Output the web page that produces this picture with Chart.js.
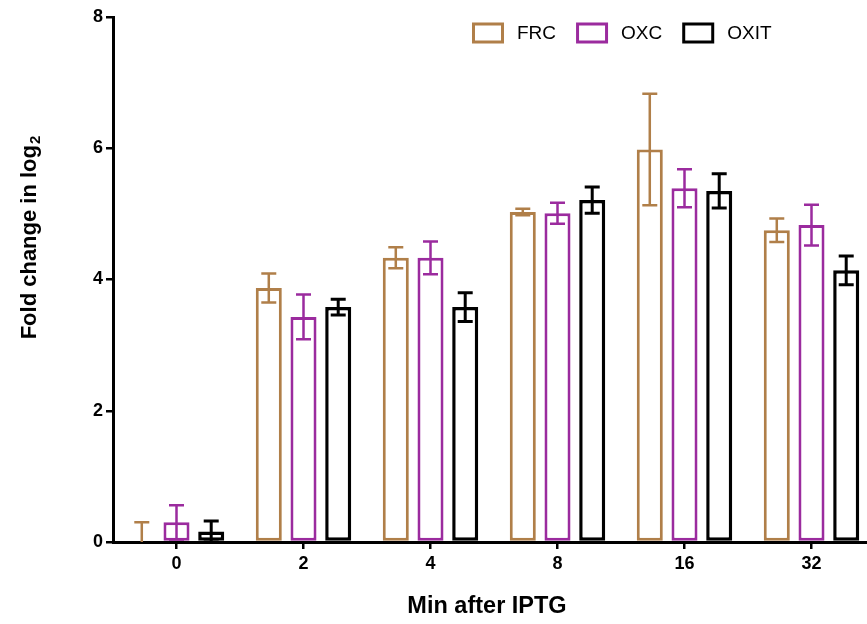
<!DOCTYPE html>
<html>
<head>
<meta charset="utf-8">
<script src="https://cdn.jsdelivr.net/npm/chart.js@4.4.1/dist/chart.umd.min.js"></script>
<style>
  html, body { margin: 0; padding: 0; background: #fff; overflow: hidden; }
  #wrap { width: 880px; height: 624px; }
</style>
</head>
<body>
<div id="wrap"><canvas id="chart" width="880" height="624"></canvas></div>
<script>
// Data
const categories = ["0", "2", "4", "8", "16", "32"];
const frcMean = [0, 3.87, 4.33, 5.03, 5.98, 4.75];
const frcErr = [0.3, 0.22, 0.16, 0.05, 0.85, 0.18];
const oxcMean = [0.3, 3.43, 4.33, 5.01, 5.39, 4.83];
const oxcErr = [0.26, 0.34, 0.25, 0.16, 0.29, 0.31];
const oxitMean = [0.16, 3.58, 3.58, 5.21, 5.35, 4.14];
const oxitErr = [0.16, 0.12, 0.22, 0.2, 0.26, 0.22];

const FONT = "'Liberation Sans', Arial, sans-serif";
const FRC_COLOR = "#b07f49";
const OXC_COLOR = "#9b2b9e";
const OXIT_COLOR = "#000000";

// Error bars drawn from the errors arrays, through the y scale
const errorBars = {
  id: "errorBars",
  afterDatasetsDraw(chart) {
    const ctx = chart.ctx;
    const y = chart.scales.y;
    const area = chart.chartArea;
    ctx.save();
    ctx.beginPath();
    ctx.rect(area.left, area.top - 30, area.right - area.left, area.bottom - area.top + 30);
    ctx.clip();
    chart.data.datasets.forEach(function (ds, i) {
      const meta = chart.getDatasetMeta(i);
      ctx.strokeStyle = ds.borderColor;
      ctx.lineWidth = ds.errWidth;
      meta.data.forEach(function (bar, j) {
        const m = ds.data[j];
        const e = ds.errors[j];
        const top = y.getPixelForValue(m + e);
        const bot = y.getPixelForValue(m - e);
        const half = 7.5;
        ctx.beginPath();
        ctx.moveTo(bar.x, top);
        ctx.lineTo(bar.x, bot);
        ctx.moveTo(bar.x - half, top);
        ctx.lineTo(bar.x + half, top);
        ctx.moveTo(bar.x - half, bot);
        ctx.lineTo(bar.x + half, bot);
        ctx.stroke();
      });
    });
    ctx.restore();
  },
};

// Legend and axis titles
const decorations = {
  id: "decorations",
  afterDraw(chart) {
    const ctx = chart.ctx;
    ctx.save();
    // legend
    let x = 472;
    const yc = 33;
    ctx.font = "19px " + FONT;
    ctx.textBaseline = "middle";
    ctx.textAlign = "left";
    chart.data.datasets.forEach(function (ds) {
      ctx.strokeStyle = ds.borderColor;
      ctx.lineWidth = 3;
      ctx.strokeRect(x + 1.5, yc - 9, 29, 18);
      ctx.fillStyle = "#000";
      ctx.fillText(ds.label, x + 45, yc + 1);
      x += 45 + ctx.measureText(ds.label).width + 20;
    });

    // x title
    ctx.font = "bold 23.5px " + FONT;
    ctx.textAlign = "center";
    ctx.fillText("Min after IPTG", 487, 607);

    // y title with subscript
    ctx.translate(30, 238);
    ctx.rotate(-Math.PI / 2);
    const main = "Fold change in log";
    ctx.font = "bold 22px " + FONT;
    const w1 = ctx.measureText(main).width;
    ctx.font = "bold 15px " + FONT;
    const w2 = ctx.measureText("2").width;
    const start = -(w1 + w2) / 2;
    ctx.textAlign = "left";
    ctx.font = "bold 22px " + FONT;
    ctx.fillText(main, start, 0);
    ctx.font = "bold 15px " + FONT;
    ctx.fillText("2", start + w1 + 1, 6);
    ctx.restore();
  },
};

function makeDataset(label, data, errors, color, width, errWidth) {
  return {
    label: label,
    data: data,
    errors: errors,
    errWidth: errWidth,
    backgroundColor: "#ffffff",
    borderColor: color,
    borderWidth: width,
    borderSkipped: false,
    categoryPercentage: 0.82,
    barPercentage: 0.75,
  };
}

const ctx = document.getElementById("chart").getContext("2d");
new Chart(ctx, {
  type: "bar",
  data: {
    labels: categories,
    datasets: [
      makeDataset("FRC", frcMean, frcErr, FRC_COLOR, 3, 2.5),
      makeDataset("OXC", oxcMean, oxcErr, OXC_COLOR, 3, 2.5),
      makeDataset("OXIT", oxitMean, oxitErr, OXIT_COLOR, 3.5, 3),
    ],
  },
  options: {
    responsive: false,
    animation: false,
    layout: { padding: { top: 17, right: 5, left: 0, bottom: 0 } },
    plugins: {
      legend: { display: false },
      tooltip: { enabled: false },
    },
    scales: {
      x: {
        z: 1,
        afterFit: function (s) { s.height = 82; },
        border: { display: true, color: "#000", width: 3 },
        grid: {
          offset: false,
          drawOnChartArea: false,
          drawTicks: true,
          tickLength: 7,
          color: "#000",
          lineWidth: 2.5,
        },
        ticks: {
          color: "#000",
          padding: 4,
          font: { family: FONT, size: 18, weight: "bold" },
        },
      },
      y: {
        z: 1,
        min: 0,
        max: 8,
        afterFit: function (s) { s.width = 113; },
        border: { display: true, color: "#000", width: 3 },
        grid: {
          drawOnChartArea: false,
          drawTicks: true,
          tickLength: 7,
          color: "#000",
          lineWidth: 2.5,
        },
        ticks: {
          stepSize: 2,
          color: "#000",
          padding: 3,
          font: { family: FONT, size: 18, weight: "bold" },
        },
      },
    },
  },
  plugins: [errorBars, decorations],
});
</script>
</body>
</html>
